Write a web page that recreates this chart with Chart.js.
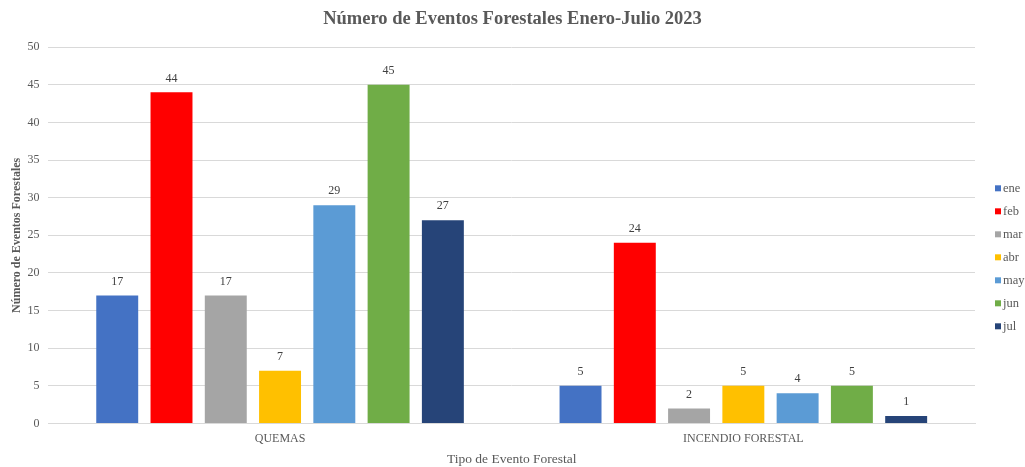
<!DOCTYPE html>
<html>
<head>
<meta charset="utf-8">
<script src="https://cdn.jsdelivr.net/npm/chart.js@4"></script>
<style>
html,body{margin:0;padding:0;background:#fff;}
#wrap{width:1025px;height:467px;}
</style>
</head>
<body>
<div id="wrap"><canvas id="eventos"></canvas></div>
<script>
/* DATOS */
const categorias = ['QUEMAS', 'INCENDIO FORESTAL'];
const meses = ['ene', 'feb', 'mar', 'abr', 'may', 'jun', 'jul'];
const ene = [17, 5];
const feb = [44, 24];
const mar = [17, 2];
const abr = [7, 5];
const may = [29, 4];
const jun = [45, 5];
const jul = [27, 1];
const colores = ['#4472C4', '#FF0000', '#A5A5A5', '#FFC000', '#5B9BD5', '#70AD47', '#264478'];

const series = [ene, feb, mar, abr, may, jun, jul];
const fuente = "'Liberation Serif', 'Times New Roman', serif";
const gris = '#595959';

/* etiquetas sobre las barras */
const etiquetas = {
  id: 'etiquetas',
  afterDatasetsDraw(chart) {
    const c = chart.ctx;
    c.save();
    c.font = '12px ' + fuente;
    c.fillStyle = '#404040';
    c.textAlign = 'center';
    c.textBaseline = 'bottom';
    chart.data.datasets.forEach((ds, i) => {
      chart.getDatasetMeta(i).data.forEach((bar, j) => {
        c.fillText(ds.data[j], bar.x, bar.y - 8);
      });
    });
    c.restore();
  }
};

/* leyenda a la derecha (estilo Excel) */
const leyenda = {
  id: 'leyenda',
  afterDraw(chart) {
    const c = chart.ctx;
    const area = chart.chartArea;
    const paso = 23;
    const x = area.right + 20;
    let y = (area.top + area.bottom) / 2 - paso * (meses.length - 1) / 2 + 22;
    c.save();
    c.font = '12.5px ' + fuente;
    c.textBaseline = 'middle';
    c.textAlign = 'left';
    chart.data.datasets.forEach((ds) => {
      c.fillStyle = ds.backgroundColor;
      c.fillRect(x, y - 3, 6, 6);
      c.fillStyle = gris;
      c.fillText(ds.label, x + 8, y);
      y += paso;
    });
    c.restore();
  }
};

const ctx = document.getElementById('eventos');

new Chart(ctx, {
  type: 'bar',
  data: {
    labels: categorias,
    datasets: meses.map((m, i) => ({
      label: m,
      data: series[i],
      backgroundColor: colores[i],
      categoryPercentage: 0.82,
      barPercentage: 0.773
    }))
  },
  options: {
    responsive: true,
    maintainAspectRatio: false,
    animation: false,
    layout: { padding: { top: 6, right: 0, left: 0, bottom: 0 } },
    plugins: {
      title: {
        display: true,
        text: 'Número de Eventos Forestales Enero-Julio 2023',
        color: gris,
        font: { family: fuente, size: 18.5, weight: 'bold' },
        padding: { top: 2, bottom: 17 }
      },
      legend: { display: false },
      tooltip: { enabled: false }
    },
    scales: {
      x: {
        grid: { display: false, drawTicks: false },
        border: { color: '#D9D9D9' },
        ticks: { color: gris, padding: 8, font: { family: fuente, size: 12 } },
        title: {
          display: true,
          text: 'Tipo de Evento Forestal',
          color: gris,
          font: { family: fuente, size: 13.5, lineHeight: 1.05 },
          padding: { top: -1, bottom: 0 }
        }
      },
      y: {
        min: 0,
        max: 50,
        ticks: { stepSize: 5, color: gris, padding: 9, font: { family: fuente, size: 12 } },
        grid: { color: '#D9D9D9', drawTicks: false },
        border: { display: false },
        title: {
          display: true,
          text: 'Número de Eventos Forestales',
          color: gris,
          font: { family: fuente, size: 12, weight: 'bold' },
          padding: { top: 10, bottom: -6 }
        }
      },
      /* espacio reservado para la leyenda */
      hueco: {
        type: 'linear',
        position: 'right',
        display: true,
        grid: { display: false, drawTicks: false },
        border: { display: false },
        ticks: { display: false },
        afterFit: (s) => { s.width = 50; }
      }
    }
  },
  plugins: [etiquetas, leyenda]
});
</script>
</body>
</html>
